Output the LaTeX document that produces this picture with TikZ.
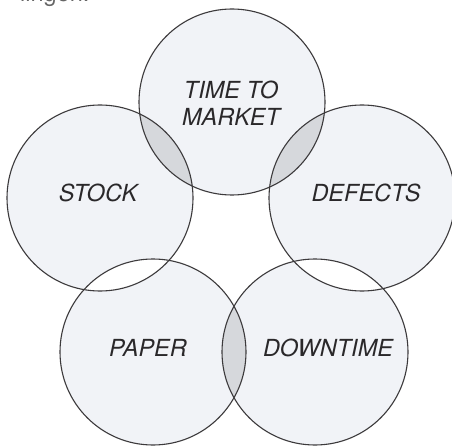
\documentclass[tikz,border=0pt]{standalone}
\usepackage{fontspec}
\setsansfont{TeX Gyre Heros}
\definecolor{discfill}{HTML}{F1F3F7}
\definecolor{lensgray}{HTML}{D6D8DC}
\definecolor{rim}{HTML}{3C3A3C}
\definecolor{ink}{HTML}{2A282A}
\tikzstyle{ring} = [draw=rim, line width=1.1pt]
\tikzstyle{word} = [text=ink, font=\sffamily\itshape\fontsize{23.5}{27}\selectfont, align=center]

\begin{document}
\begin{tikzpicture}[x=1pt,y=1pt,every node/.style={inner sep=0pt}]
	\useasboundingbox (0,0) rectangle (452,445);
	\clip (0,0) rectangle (452,445);
	\fill[white] (0,0) rectangle (452,445);
	\coordinate (T) at (232,343);
	\coordinate (S) at (100,247);
	\coordinate (D) at (362,247);
	\coordinate (P) at (153,93);
	\coordinate (W) at (315,93);
	% discs
	\foreach \c in {T,S,D,P,W}
		\fill[discfill] (\c) circle [radius=93];
	% dark lenses
	\begin{scope}
		\clip (T) circle [radius=93];
		\fill[lensgray] (S) circle [radius=93];
		\fill[lensgray] (D) circle [radius=93];
	\end{scope}
	\begin{scope}
		\clip (P) circle [radius=93];
		\fill[lensgray] (W) circle [radius=93];
	\end{scope}
	% white lenses
	\begin{scope}
		\clip (S) circle [radius=93];
		\fill[white] (P) circle [radius=93];
	\end{scope}
	\begin{scope}
		\clip (D) circle [radius=93];
		\fill[white] (W) circle [radius=93];
	\end{scope}
	\foreach \c in {T,S,D,P,W}
		\draw[ring] (\c) circle [radius=93];
	% labels
	\node[word] (time) at (231,342) {TIME TO\\MARKET};
	\node[word] (stock) at (98,252) {STOCK};
	\node[word] (defects) at (366,252) {DEFECTS};
	\node[word] (paper) at (148,97) {PAPER};
	\node[word] (downtime) at (328,97) {DOWNTIME};
	\node[anchor=base west, text=black!60, font=\sffamily\fontsize{23.5}{27}\selectfont] (cut) at (20,443) {lingen.};
\end{tikzpicture}
\end{document}
